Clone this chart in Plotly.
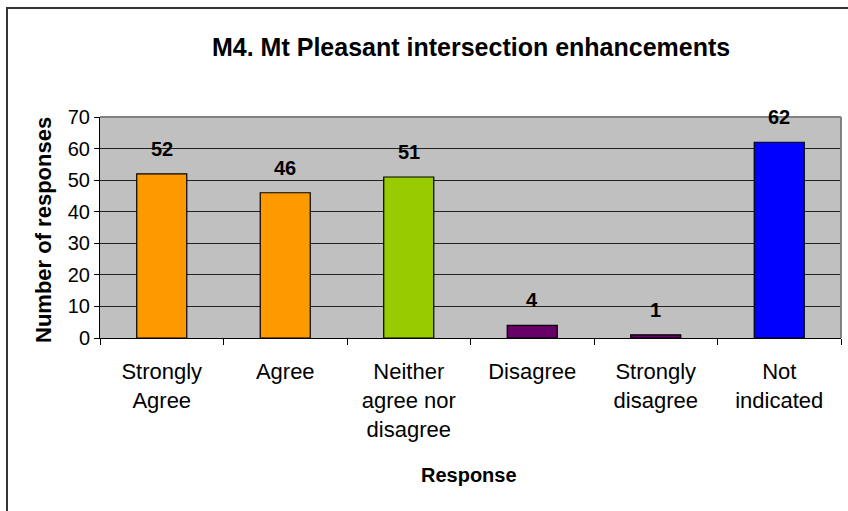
import plotly.graph_objects as go

categories = ["Strongly<br>Agree", "Agree", "Neither<br>agree nor<br>disagree",
              "Disagree", "Strongly<br>disagree", "Not<br>indicated"]
values = [52, 46, 51, 4, 1, 62]
bar_colors = ["#FF9900", "#FF9900", "#99CC00", "#660066", "#660066", "#0000FF"]
y_ticks = [0, 10, 20, 30, 40, 50, 60, 70]

title_text = "M4. Mt Pleasant intersection enhancements"
x_title = "Response"
y_title = "Number of responses"

FONT = "Liberation Sans, Arial, sans-serif"

W, H = 848, 511
ML, MR, MT, MB = 100, 7, 117, 173
PW = W - ML - MR
PH = H - MT - MB

def px_x(x):
    return (x - ML) / PW

def px_y(y):
    return (H - MB - y) / PH

fig = go.Figure()
fig.add_trace(go.Bar(
    x=categories, y=values,
    marker=dict(color=bar_colors, line=dict(color="#000000", width=1.2)),
    hoverinfo="x+y",
))

annotations = []
for c, v in zip(categories, values):
    annotations.append(dict(
        x=c, y=v, xref="x", yref="y", text=f"<b>{v}</b>", showarrow=False,
        yanchor="middle", yshift=25, font=dict(family=FONT, size=20, color="#000"),
    ))

annotations.append(dict(
    x=0.5, y=1, xref="paper", yref="paper", yshift=70,
    text=f"<b>{title_text}</b>", showarrow=False, xanchor="center", yanchor="middle",
    font=dict(family=FONT, size=25, color="#000"),
))
annotations.append(dict(
    x=px_x(43), y=px_y(230), xref="paper", yref="paper",
    text=f"<b>{y_title}</b>", showarrow=False, textangle=-90,
    xanchor="center", yanchor="middle",
    font=dict(family=FONT, size=22, color="#000"),
))
annotations.append(dict(
    x=px_x(469), y=px_y(475), xref="paper", yref="paper",
    text=f"<b>{x_title}</b>", showarrow=False,
    xanchor="center", yanchor="middle",
    font=dict(family=FONT, size=20, color="#000"),
))

shapes = [
    # outer chart border
    dict(type="rect", xref="paper", yref="paper",
         x0=px_x(7), x1=px_x(860), y0=px_y(8), y1=px_y(530),
         line=dict(color="#333333", width=2), layer="above"),
    # plot area top and right borders
    dict(type="line", xref="paper", yref="paper", x0=0, x1=1, y0=1, y1=1,
         line=dict(color="#808080", width=2), layer="above"),
    dict(type="line", xref="paper", yref="paper", x0=1, x1=1, y0=0, y1=1,
         line=dict(color="#808080", width=2), layer="above"),
]

fig.update_layout(
    width=W, height=H,
    margin=dict(l=ML, r=MR, t=MT, b=MB, autoexpand=False),
    paper_bgcolor="#FFFFFF",
    plot_bgcolor="#C0C0C0",
    bargap=0.595,
    showlegend=False,
    annotations=annotations,
    shapes=shapes,
    font=dict(family=FONT, color="#000"),
)
fig.update_xaxes(
    type="category",
    showline=True, linecolor="#000000", linewidth=1,
    ticks="outside", ticklen=6, tickcolor="#000000", tickwidth=1,
    tickson="boundaries",
    showgrid=False,
    tickfont=dict(family=FONT, size=22, color="#000"),
    ticklabelstandoff=14,
    automargin=False,
)
fig.update_yaxes(
    range=[0, 70],
    tickvals=y_ticks,
    showline=True, linecolor="#000000", linewidth=1,
    ticks="outside", ticklen=5, tickcolor="#000000", tickwidth=1,
    showgrid=True, gridcolor="#222222", gridwidth=1,
    zeroline=False,
    tickfont=dict(family=FONT, size=20, color="#000"),
    automargin=False,
)

fig.write_html(
    "out.html",
    config={"displayModeBar": False},
    post_script="document.body.style.margin='0px';document.body.style.overflow='hidden';",
)
